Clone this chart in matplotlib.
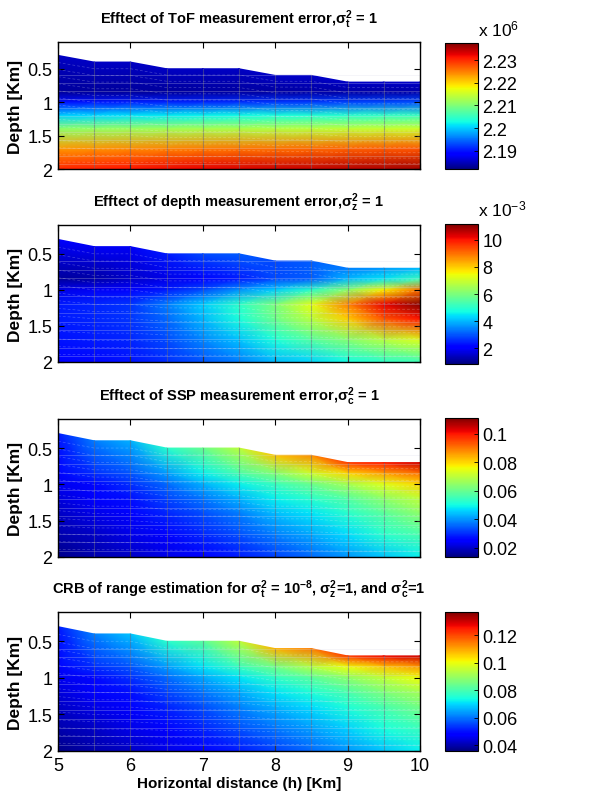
import numpy as np
import matplotlib
matplotlib.use('Agg')
import matplotlib.pyplot as plt

plt.rcParams['font.family'] = ['Liberation Sans', 'DejaVu Sans']
plt.rcParams['mathtext.fontset'] = 'custom'
plt.rcParams['mathtext.rm'] = 'Liberation Sans'
plt.rcParams['mathtext.it'] = 'Liberation Sans'
plt.rcParams['mathtext.bf'] = 'Liberation Sans:bold'

# ---------------- data ----------------
x_km = [5.0, 5.5, 6.0, 6.5, 7.0, 7.5, 8.0, 8.5, 9.0, 9.5, 10.0]
top_depth = [0.3, 0.4, 0.4, 0.5, 0.5, 0.5, 0.6, 0.6, 0.7, 0.7, 0.7]
row_depths = [0.85, 1.0, 1.2, 1.4, 1.7, 2.0]   # rows below the top surface

# panel 1: ToF error (x 10^6)
tof_vals = [
    [2.1853, 2.1853, 2.1853, 2.1854, 2.1854, 2.1854, 2.1855, 2.1855, 2.1856, 2.1856, 2.1856],
    [2.1834, 2.1834, 2.1835, 2.1835, 2.1836, 2.1837, 2.1837, 2.1838, 2.1839, 2.1839, 2.1840],
    [2.1898, 2.1901, 2.1905, 2.1908, 2.1911, 2.1915, 2.1918, 2.1921, 2.1925, 2.1928, 2.1931],
    [2.2003, 2.2008, 2.2013, 2.2018, 2.2023, 2.2028, 2.2033, 2.2038, 2.2043, 2.2048, 2.2053],
    [2.2109, 2.2113, 2.2118, 2.2122, 2.2127, 2.2131, 2.2135, 2.2140, 2.2144, 2.2149, 2.2153],
    [2.2236, 2.2240, 2.2244, 2.2248, 2.2252, 2.2256, 2.2259, 2.2263, 2.2267, 2.2271, 2.2275],
    [2.2303, 2.2308, 2.2314, 2.2319, 2.2325, 2.2330, 2.2336, 2.2341, 2.2347, 2.2352, 2.2358],
]
# panel 2: depth error (x 10^-3)
depth_vals = [
    [2.1, 1.9, 1.9, 2.4, 2.9, 3.1, 2.9, 3.1, 3.4, 3.7, 4.0],
    [1.1, 1.2, 1.5, 1.8, 2.1, 2.4, 2.9, 3.1, 4.0, 4.5, 5.2],
    [1.8, 1.9, 2.1, 2.4, 2.9, 3.6, 4.2, 5.0, 6.2, 7.6, 9.0],
    [2.4, 2.5, 2.7, 3.4, 4.2, 5.0, 6.0, 7.3, 8.8, 10.2, 11.1],
    [2.4, 2.5, 2.7, 3.2, 4.0, 4.8, 5.8, 6.8, 8.0, 9.3, 10.0],
    [2.3, 2.4, 2.5, 2.9, 3.5, 4.1, 4.8, 5.5, 6.1, 6.7, 7.2],
    [2.1, 2.2, 2.3, 2.6, 3.0, 3.4, 4.0, 4.3, 4.7, 5.0, 5.2],
]
# panel 3: SSP error
ssp_vals = [
    [0.0283, 0.0380, 0.0429, 0.0526, 0.0604, 0.0701, 0.0818, 0.0876, 0.0964, 0.0993, 0.1042],
    [0.0254, 0.0302, 0.0341, 0.0409, 0.0487, 0.0565, 0.0633, 0.0721, 0.0799, 0.0857, 0.0906],
    [0.0234, 0.0263, 0.0302, 0.0361, 0.0429, 0.0487, 0.0546, 0.0604, 0.0672, 0.0740, 0.0799],
    [0.0215, 0.0244, 0.0273, 0.0322, 0.0371, 0.0429, 0.0487, 0.0526, 0.0575, 0.0643, 0.0701],
    [0.0195, 0.0225, 0.0254, 0.0293, 0.0332, 0.0380, 0.0439, 0.0478, 0.0526, 0.0585, 0.0643],
    [0.0176, 0.0195, 0.0225, 0.0254, 0.0293, 0.0332, 0.0380, 0.0419, 0.0468, 0.0526, 0.0565],
    [0.0147, 0.0176, 0.0195, 0.0225, 0.0244, 0.0283, 0.0322, 0.0361, 0.0400, 0.0448, 0.0487],
]
# panel 4: CRB total
crb_vals = [
    [0.0510, 0.0611, 0.0682, 0.0763, 0.0824, 0.0945, 0.1087, 0.1147, 0.1218, 0.1269, 0.1299],
    [0.0479, 0.0530, 0.0571, 0.0641, 0.0712, 0.0783, 0.0854, 0.0935, 0.1006, 0.1066, 0.1117],
    [0.0459, 0.0490, 0.0530, 0.0591, 0.0651, 0.0712, 0.0773, 0.0824, 0.0884, 0.0945, 0.1006],
    [0.0439, 0.0469, 0.0500, 0.0550, 0.0601, 0.0651, 0.0712, 0.0753, 0.0803, 0.0864, 0.0915],
    [0.0419, 0.0449, 0.0479, 0.0520, 0.0560, 0.0611, 0.0662, 0.0702, 0.0753, 0.0803, 0.0854],
    [0.0398, 0.0419, 0.0449, 0.0479, 0.0520, 0.0560, 0.0601, 0.0641, 0.0692, 0.0743, 0.0783],
    [0.0368, 0.0398, 0.0419, 0.0449, 0.0469, 0.0510, 0.0550, 0.0591, 0.0631, 0.0682, 0.0722],
]

color_limits = [(2.182, 2.2375), (0.85, 11.15), (0.0137, 0.111), (0.0358, 0.137)]
cbar_ticks = [[2.19, 2.20, 2.21, 2.22, 2.23], [2, 4, 6, 8, 10],
              [0.02, 0.04, 0.06, 0.08, 0.1], [0.04, 0.06, 0.08, 0.1, 0.12]]
cbar_exponent = ['6', '-3', None, None]
y_ticks = [0.5, 1, 1.5, 2]
y_ticklabels = ['0.5', '1', '1.5', '2']
x_ticks = [5, 6, 7, 8, 9, 10]

titles = [
    r'Efftect of ToF measurement error,$\mathbf{\sigma^2_t}$ = 1',
    r'Efftect of depth measurement error,$\mathbf{\sigma^2_z}$ = 1',
    r'Efftect of SSP measurement error,$\mathbf{\sigma^2_c}$ = 1',
    r'CRB of range estimation for $\mathbf{\sigma^2_t}$ = $\mathbf{10^{-8}}$, $\mathbf{\sigma^2_z}$=1, and $\mathbf{\sigma^2_c}$=1',
]
panels = [tof_vals, depth_vals, ssp_vals, crb_vals]

# ---------------- layout ----------------
W, H = 598, 804
fig = plt.figure(figsize=(W / 100, H / 100), dpi=100)
fig.patch.set_facecolor('white')

ax_px = [(43, 170), (226, 363), (420, 558), (613, 752)]
cb_px = [(44, 170), (225, 365), (419, 558), (613, 752)]
ax_l, ax_r = 58, 420
cb_l, cb_r = 445, 478

X = np.array([x_km] * (len(row_depths) + 1))
Y = np.array([top_depth] + [[d] * len(x_km) for d in row_depths])
tops = np.array(top_depth)

for i, vals in enumerate(panels):
    yt, yb = ax_px[i]
    ax = fig.add_axes([ax_l / W, 1 - yb / H, (ax_r - ax_l) / W, (yb - yt) / H])
    C = np.array(vals)
    vmin, vmax = color_limits[i]
    mesh = ax.pcolormesh(X, Y, C, shading='gouraud', cmap='jet', vmin=vmin, vmax=vmax)

    # mesh edges (decorative, derived from the grid)
    for j, xv in enumerate(x_km[1:-1], start=1):
        ax.plot([xv, xv], [top_depth[j], 2.0], color=(0.40, 0.40, 0.50), lw=0.8, alpha=0.5)
    for frac in np.linspace(0, 1, 17)[1:-1]:
        yy = tops + frac * (2.0 - tops)
        ax.plot(x_km, yy, color='white', lw=0.5, alpha=0.25, dashes=(4, 3))
    for d in np.arange(0.6, 2.0, 0.12):
        xs = np.array(x_km)[tops < d - 0.02]
        ax.plot([xs[0] + 0.02, 9.98], [d, d], color=(0.85, 0.85, 0.92), lw=0.6, alpha=0.3)

    ax.set_xlim(5, 10)
    ax.set_ylim(2, 0.1)
    ax.set_yticks(y_ticks)
    ax.set_yticklabels(y_ticklabels)
    ax.set_xticks(x_ticks)
    ax.tick_params(direction='in', length=4, width=0.8, top=True, right=True,
                   labelsize=13, pad=4)
    if i < 3:
        ax.set_xticklabels([])
    else:
        ax.set_xlabel('Horizontal distance (h) [Km]', fontsize=11, fontweight='bold', labelpad=2)
    ax.set_ylabel('Depth [Km]', fontsize=12.5, fontweight='bold', labelpad=3)
    for sp in ax.spines.values():
        sp.set_linewidth(1.0)
    ax.set_title(titles[i], fontsize=10.5, fontweight='bold', pad=14)

    ct, cbt = cb_px[i]
    cax = fig.add_axes([cb_l / W, 1 - cbt / H, (cb_r - cb_l) / W, (cbt - ct) / H])
    cb = fig.colorbar(mesh, cax=cax)
    cb.set_ticks(cbar_ticks[i])
    cb.set_ticklabels(['%g' % t for t in cbar_ticks[i]])
    cax.tick_params(direction='in', length=3, width=0.6, labelsize=13, pad=3)
    cb.outline.set_linewidth(0.8)
    if cbar_exponent[i] is not None:
        cax.text(1.0, 1.04, r'x 10$^{%s}$' % cbar_exponent[i].replace('-', '\u2212'),
                 transform=cax.transAxes, fontsize=12.5, ha='left', va='bottom')

fig.savefig('out.png', dpi=100, facecolor='white')
